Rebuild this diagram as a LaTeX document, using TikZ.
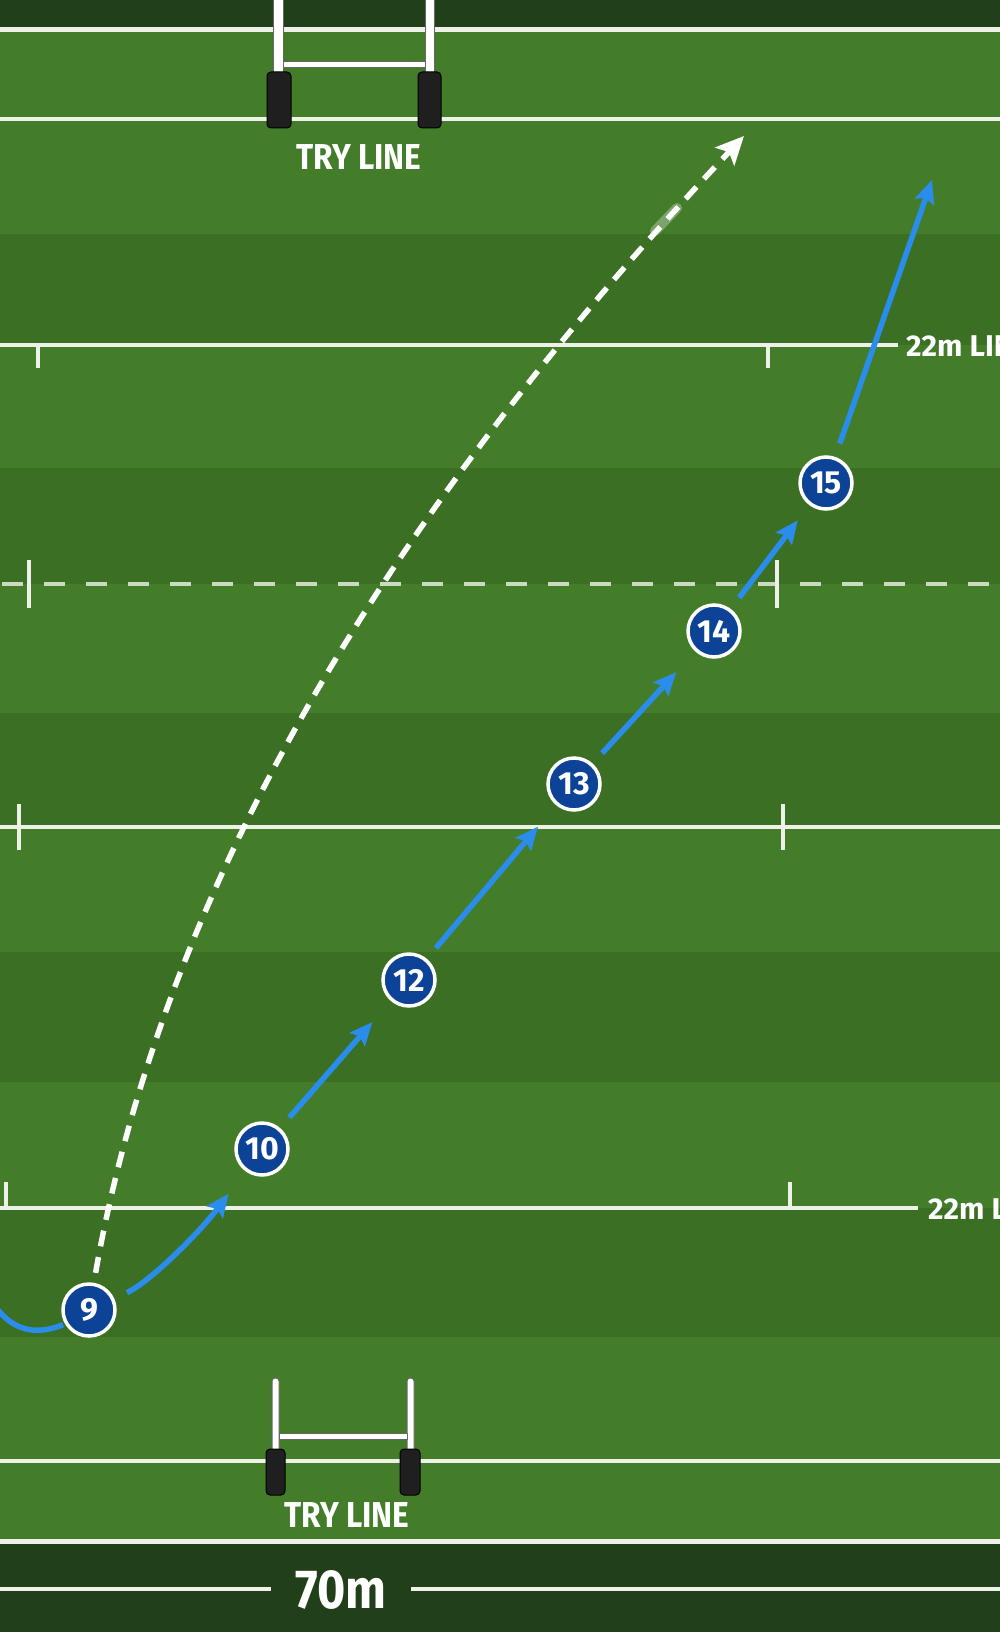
\documentclass[tikz,border=0pt]{standalone}
\usepackage{fontspec}
\setmainfont{Fira Sans}
\newfontfamily\narrowfont[FakeStretch=0.88]{Fira Sans}
\usetikzlibrary{arrows.meta}

\definecolor{turf}{HTML}{447D2A}
\definecolor{turfdark}{HTML}{3B6F23}
\definecolor{sideband}{HTML}{21401A}
\definecolor{chalk}{HTML}{EEF1E8}
\definecolor{shirt}{HTML}{0C4396}
\definecolor{runblue}{HTML}{2A8CEB}

\tikzset{
  player/.style={circle, draw=white, line width=3.5pt, fill=shirt, minimum size=52pt,
    inner sep=0pt, text=white, font=\fontsize{32}{32}\selectfont\bfseries},
  run/.style={draw=runblue, line width=5.5pt, -{Stealth[length=23pt,width=20pt,inset=4pt]},
    shorten <=14pt, shorten >=28pt},
  pass/.style={draw=white, line width=5.5pt, dash pattern=on 16pt off 11pt,
    -{Stealth[length=28pt,width=26pt,inset=6pt]}, shorten <=10pt},
  chalkline/.style={draw=chalk, line width=4.5pt},
  tickmark/.style={draw=chalk, line width=4pt},
  linelabel/.style={text=white, font=\fontsize{30}{30}\selectfont\bfseries, anchor=west, inner sep=0pt},
  trylabel/.style={text=white, font=\narrowfont\fontsize{36}{36}\selectfont\bfseries, anchor=base, inner sep=0pt},
  pad/.style={fill=black!88, draw=black, line width=1pt, rounded corners=4pt},
  upright/.style={fill=white, draw=black!60, line width=1pt},
}

\begin{document}
\begin{tikzpicture}[x=1pt, y=-1pt]
\useasboundingbox (0,0) rectangle (1000,1632);
\clip (0,0) rectangle (1000,1632);

% turf and mowing stripes
\fill[turf] (0,0) rectangle (1000,1632);
\foreach \ya/\yb in {234/345, 468/584, 713/827, 952/1082, 1208/1337}
  \fill[turfdark] (0,\ya) rectangle (1000,\yb);
\fill[sideband] (0,0) rectangle (1000,29);
\fill[sideband] (0,1543) rectangle (1000,1632);

% pitch markings
\draw[chalkline, line width=5pt] (0,30) -- (1000,30);
\draw[chalkline] (0,119) -- (1000,119);
\draw[chalkline] (0,345) -- (898,345);
\draw[chalkline, draw=chalk!80!turf, dash pattern=on 21pt off 21pt] (2,584) -- (1000,584);
\draw[chalkline] (0,827) -- (1000,827);
\draw[chalkline] (0,1208) -- (918,1208);
\draw[chalkline] (0,1461) -- (1000,1461);
\draw[chalkline, line width=5pt] (0,1541) -- (1000,1541);
\draw[chalkline] (0,1589) -- (271,1589) (411,1589) -- (1000,1589);
\foreach \x in {38,768} \draw[tickmark] (\x,345) -- (\x,368);
\foreach \x in {29,777} \draw[tickmark] (\x,560) -- (\x,608);
\foreach \x in {19,783} \draw[tickmark] (\x,804) -- (\x,850);
\foreach \x in {6,790} \draw[tickmark] (\x,1182) -- (\x,1208);

% posts
\draw[upright] (273,-5) rectangle (283,80);
\draw[upright] (425,-5) rectangle (434,80);
\draw[upright] (283,62) rectangle (425,68);
\draw[pad] (267,72) rectangle (291,128);
\draw[pad] (418,72) rectangle (441,128);
\draw[upright, rounded corners=3pt] (272,1378) rectangle (279,1455);
\draw[upright, rounded corners=3pt] (407,1378) rectangle (414,1455);
\draw[upright] (279,1433) rectangle (407,1439);
\draw[pad] (266,1449) rectangle (285,1495);
\draw[pad] (400,1449) rectangle (420,1495);

% labels
\node[trylabel] (trytop) at (359,170) {TRY LINE};
\node[trylabel] (trybottom) at (347,1527) {TRY LINE};
\node[linelabel] (lineupper) at (906,346) {22m LINE};
\node[linelabel] (linelower) at (928,1209) {22m LINE};
\node[trylabel, font=\narrowfont\fontsize{55}{55}\selectfont\bfseries] (width) at (341,1608) {70m};

% players
\node[player] (p9) at (89,1310) {9};
\node[player] (p10) at (262,1149) {10};
\node[player] (p12) at (409,980) {12};
\node[player] (p13) at (574,784) {13};
\node[player] (p14) at (714,631) {14};
\node[player] (p15) at (826,483) {15};
\coordinate (kickto) at (744,136);
\coordinate (runto) at (932,180);
\coordinate (loopin) at (-5,1306);

% runs and the pass
\draw[draw=runblue, line width=5.5pt, shorten >=2pt] (loopin) .. controls (15,1334) and (40,1334) .. (p9.210);
\draw[run] (p9) .. controls (150,1282) and (200,1232) .. (p10);
\draw[run] (p10) -- (p12);
\draw[run] (p12) -- (p13);
\draw[run] (p13) -- (p14);
\draw[run, shorten >=19pt] (p14) -- (p15);
\draw[run, shorten >=0pt] (p15) -- (runto);
\draw[pass] (p9) .. controls (183,779) and (511,384) .. (kickto);
\draw[white, opacity=0.3, line width=10pt, line cap=round] (655,231) -- (677,208);
\end{tikzpicture}
\end{document}
